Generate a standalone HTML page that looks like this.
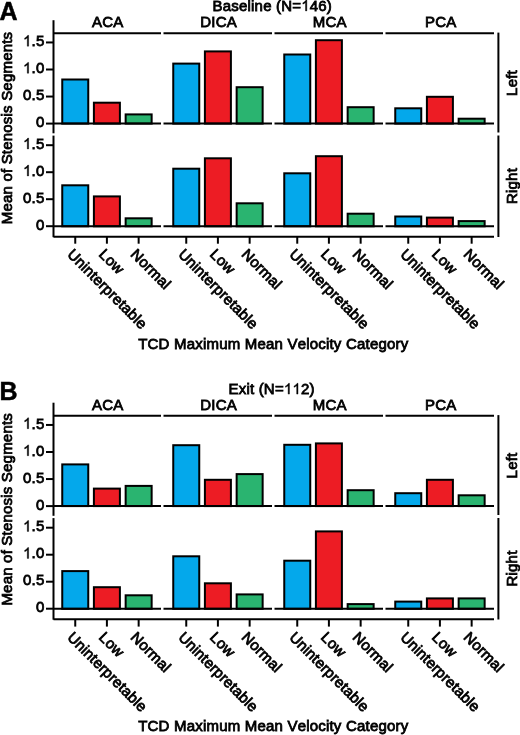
<!DOCTYPE html>
<html><head><meta charset="utf-8"><style>
html,body{margin:0;padding:0;background:#fff;}
svg{display:block;will-change:transform;}
text{font-family:"Liberation Sans",sans-serif;fill:#000;stroke:#000;stroke-width:0.8px;letter-spacing:0.2px;font-kerning:none;}
.one{fill:none;stroke:none;}
.b{stroke-width:0.5px;}
.p1{fill:#000;stroke:#000;stroke-width:55px;}
</style></head><body>
<svg width="520" height="735" viewBox="0 0 520 735">
<rect width="520" height="735" fill="#fff"/>
<text class="b" font-size="25" font-weight="bold" text-anchor="start" transform="translate(-0.5,19.9) scale(1,1)">A</text>
<text font-size="15" font-weight="normal" text-anchor="middle" transform="translate(272.3,10.9) scale(1,1.0)">Baseline (N=<tspan class="one">1</tspan>46)</text>
<path transform="translate(272.3,10.9) scale(1,1.0) translate(28.938,0) scale(0.007324,-0.007324)" d="M763 0H583V1147Q518 1085 412.5 1023T223 930V1104Q373 1175 485.5 1276T645 1472H763Z" class="p1"/>
<line x1="53.5" y1="33.2" x2="161.0" y2="33.2" stroke="#000" stroke-width="2"/>
<text font-size="15" font-weight="normal" text-anchor="middle" transform="translate(107.65,27.2) scale(1,1.0)">ACA</text>
<line x1="163.5" y1="33.2" x2="272.0" y2="33.2" stroke="#000" stroke-width="2"/>
<text font-size="15" font-weight="normal" text-anchor="middle" transform="translate(218.65,27.2) scale(1,1.0)">DICA</text>
<line x1="274.5" y1="33.2" x2="383.0" y2="33.2" stroke="#000" stroke-width="2"/>
<text font-size="15" font-weight="normal" text-anchor="middle" transform="translate(329.65,27.2) scale(1,1.0)">MCA</text>
<line x1="385.5" y1="33.2" x2="494.0" y2="33.2" stroke="#000" stroke-width="2"/>
<text font-size="15" font-weight="normal" text-anchor="middle" transform="translate(440.65,27.2) scale(1,1.0)">PCA</text>
<line x1="53.5" y1="20.2" x2="53.5" y2="133.3" stroke="#000" stroke-width="2"/>
<line x1="53.5" y1="135.6" x2="53.5" y2="237.2" stroke="#000" stroke-width="2"/>
<line x1="498.4" y1="32.6" x2="498.4" y2="132.5" stroke="#000" stroke-width="2"/>
<line x1="498.4" y1="135.5" x2="498.4" y2="237" stroke="#000" stroke-width="2"/>
<text font-size="15" font-weight="normal" text-anchor="middle" transform="translate(516.5,83) rotate(-90) translate(0,0) scale(1,1.0)">Left</text>
<text font-size="15" font-weight="normal" text-anchor="middle" transform="translate(516.5,186) rotate(-90) translate(0,0) scale(1,1.0)">Right</text>
<line x1="46" y1="123.6" x2="53.5" y2="123.6" stroke="#000" stroke-width="2"/>
<text font-size="15" font-weight="normal" text-anchor="end" transform="translate(44.5,127.3) scale(1,1.0)">0</text>
<line x1="46" y1="96.55" x2="53.5" y2="96.55" stroke="#000" stroke-width="2"/>
<text font-size="15" font-weight="normal" text-anchor="end" transform="translate(44.5,100.25) scale(1,1.0)">0.5</text>
<line x1="46" y1="69.5" x2="53.5" y2="69.5" stroke="#000" stroke-width="2"/>
<text font-size="15" font-weight="normal" text-anchor="end" transform="translate(44.5,73.2) scale(1,1.0)"><tspan class="one">1</tspan>.0</text>
<path transform="translate(44.5,73.2) scale(1,1.0) translate(-21.469,0) scale(0.007324,-0.007324)" d="M763 0H583V1147Q518 1085 412.5 1023T223 930V1104Q373 1175 485.5 1276T645 1472H763Z" class="p1"/>
<line x1="46" y1="42.44999999999999" x2="53.5" y2="42.44999999999999" stroke="#000" stroke-width="2"/>
<text font-size="15" font-weight="normal" text-anchor="end" transform="translate(44.5,46.14999999999999) scale(1,1.0)"><tspan class="one">1</tspan>.5</text>
<path transform="translate(44.5,46.14999999999999) scale(1,1.0) translate(-21.469,0) scale(0.007324,-0.007324)" d="M763 0H583V1147Q518 1085 412.5 1023T223 930V1104Q373 1175 485.5 1276T645 1472H763Z" class="p1"/>
<line x1="46" y1="226.2" x2="53.5" y2="226.2" stroke="#000" stroke-width="2"/>
<text font-size="15" font-weight="normal" text-anchor="end" transform="translate(44.5,229.89999999999998) scale(1,1.0)">0</text>
<line x1="46" y1="199.2" x2="53.5" y2="199.2" stroke="#000" stroke-width="2"/>
<text font-size="15" font-weight="normal" text-anchor="end" transform="translate(44.5,202.89999999999998) scale(1,1.0)">0.5</text>
<line x1="46" y1="172.2" x2="53.5" y2="172.2" stroke="#000" stroke-width="2"/>
<text font-size="15" font-weight="normal" text-anchor="end" transform="translate(44.5,175.89999999999998) scale(1,1.0)"><tspan class="one">1</tspan>.0</text>
<path transform="translate(44.5,175.89999999999998) scale(1,1.0) translate(-21.469,0) scale(0.007324,-0.007324)" d="M763 0H583V1147Q518 1085 412.5 1023T223 930V1104Q373 1175 485.5 1276T645 1472H763Z" class="p1"/>
<line x1="46" y1="145.2" x2="53.5" y2="145.2" stroke="#000" stroke-width="2"/>
<text font-size="15" font-weight="normal" text-anchor="end" transform="translate(44.5,148.89999999999998) scale(1,1.0)"><tspan class="one">1</tspan>.5</text>
<path transform="translate(44.5,148.89999999999998) scale(1,1.0) translate(-21.469,0) scale(0.007324,-0.007324)" d="M763 0H583V1147Q518 1085 412.5 1023T223 930V1104Q373 1175 485.5 1276T645 1472H763Z" class="p1"/>
<rect x="62.25" y="79.50" width="26.00" height="44.10" fill="#04A8EB" stroke="#000" stroke-width="2"/>
<rect x="93.90" y="102.70" width="26.00" height="20.90" fill="#ED1C24" stroke="#000" stroke-width="2"/>
<rect x="125.65" y="114.40" width="26.00" height="9.20" fill="#2AB470" stroke="#000" stroke-width="2"/>
<line x1="53.5" y1="123.6" x2="161.0" y2="123.6" stroke="#000" stroke-width="2"/>
<rect x="173.25" y="63.60" width="26.00" height="60.00" fill="#04A8EB" stroke="#000" stroke-width="2"/>
<rect x="204.90" y="51.40" width="26.00" height="72.20" fill="#ED1C24" stroke="#000" stroke-width="2"/>
<rect x="236.65" y="87.20" width="26.00" height="36.40" fill="#2AB470" stroke="#000" stroke-width="2"/>
<line x1="163.5" y1="123.6" x2="272.0" y2="123.6" stroke="#000" stroke-width="2"/>
<rect x="284.25" y="54.50" width="26.00" height="69.10" fill="#04A8EB" stroke="#000" stroke-width="2"/>
<rect x="315.90" y="40.20" width="26.00" height="83.40" fill="#ED1C24" stroke="#000" stroke-width="2"/>
<rect x="347.65" y="107.20" width="26.00" height="16.40" fill="#2AB470" stroke="#000" stroke-width="2"/>
<line x1="274.5" y1="123.6" x2="383.0" y2="123.6" stroke="#000" stroke-width="2"/>
<rect x="395.25" y="108.30" width="26.00" height="15.30" fill="#04A8EB" stroke="#000" stroke-width="2"/>
<rect x="426.90" y="96.80" width="26.00" height="26.80" fill="#ED1C24" stroke="#000" stroke-width="2"/>
<rect x="458.65" y="118.70" width="26.00" height="4.90" fill="#2AB470" stroke="#000" stroke-width="2"/>
<line x1="385.5" y1="123.6" x2="494.0" y2="123.6" stroke="#000" stroke-width="2"/>
<rect x="62.25" y="185.30" width="26.00" height="41.00" fill="#04A8EB" stroke="#000" stroke-width="2"/>
<rect x="93.90" y="196.40" width="26.00" height="29.90" fill="#ED1C24" stroke="#000" stroke-width="2"/>
<rect x="125.65" y="218.30" width="26.00" height="8.00" fill="#2AB470" stroke="#000" stroke-width="2"/>
<line x1="53.5" y1="226.3" x2="161.0" y2="226.3" stroke="#000" stroke-width="2"/>
<rect x="173.25" y="168.70" width="26.00" height="57.60" fill="#04A8EB" stroke="#000" stroke-width="2"/>
<rect x="204.90" y="158.30" width="26.00" height="68.00" fill="#ED1C24" stroke="#000" stroke-width="2"/>
<rect x="236.65" y="203.30" width="26.00" height="23.00" fill="#2AB470" stroke="#000" stroke-width="2"/>
<line x1="163.5" y1="226.3" x2="272.0" y2="226.3" stroke="#000" stroke-width="2"/>
<rect x="284.25" y="173.30" width="26.00" height="53.00" fill="#04A8EB" stroke="#000" stroke-width="2"/>
<rect x="315.90" y="156.20" width="26.00" height="70.10" fill="#ED1C24" stroke="#000" stroke-width="2"/>
<rect x="347.65" y="213.70" width="26.00" height="12.60" fill="#2AB470" stroke="#000" stroke-width="2"/>
<line x1="274.5" y1="226.3" x2="383.0" y2="226.3" stroke="#000" stroke-width="2"/>
<rect x="395.25" y="216.50" width="26.00" height="9.80" fill="#04A8EB" stroke="#000" stroke-width="2"/>
<rect x="426.90" y="217.60" width="26.00" height="8.70" fill="#ED1C24" stroke="#000" stroke-width="2"/>
<rect x="458.65" y="221.10" width="26.00" height="5.20" fill="#2AB470" stroke="#000" stroke-width="2"/>
<line x1="385.5" y1="226.3" x2="494.0" y2="226.3" stroke="#000" stroke-width="2"/>
<line x1="53.5" y1="236.8" x2="494" y2="236.8" stroke="#000" stroke-width="2"/>
<line x1="75.25" y1="237" x2="75.25" y2="243.7" stroke="#000" stroke-width="2"/>
<text font-size="15" font-weight="normal" text-anchor="start" transform="translate(66.44,255.28) rotate(45) translate(0,0) scale(1,1.0)">Uninterpretable</text>
<line x1="106.9" y1="237" x2="106.9" y2="243.7" stroke="#000" stroke-width="2"/>
<text font-size="15" font-weight="normal" text-anchor="start" transform="translate(98.09,255.28) rotate(45) translate(0,0) scale(1,1.0)">Low</text>
<line x1="138.65" y1="237" x2="138.65" y2="243.7" stroke="#000" stroke-width="2"/>
<text font-size="15" font-weight="normal" text-anchor="start" transform="translate(129.84,255.28) rotate(45) translate(0,0) scale(1,1.0)">Normal</text>
<line x1="186.25" y1="237" x2="186.25" y2="243.7" stroke="#000" stroke-width="2"/>
<text font-size="15" font-weight="normal" text-anchor="start" transform="translate(177.44,255.28) rotate(45) translate(0,0) scale(1,1.0)">Uninterpretable</text>
<line x1="217.9" y1="237" x2="217.9" y2="243.7" stroke="#000" stroke-width="2"/>
<text font-size="15" font-weight="normal" text-anchor="start" transform="translate(209.09,255.28) rotate(45) translate(0,0) scale(1,1.0)">Low</text>
<line x1="249.65" y1="237" x2="249.65" y2="243.7" stroke="#000" stroke-width="2"/>
<text font-size="15" font-weight="normal" text-anchor="start" transform="translate(240.84,255.28) rotate(45) translate(0,0) scale(1,1.0)">Normal</text>
<line x1="297.25" y1="237" x2="297.25" y2="243.7" stroke="#000" stroke-width="2"/>
<text font-size="15" font-weight="normal" text-anchor="start" transform="translate(288.44,255.28) rotate(45) translate(0,0) scale(1,1.0)">Uninterpretable</text>
<line x1="328.9" y1="237" x2="328.9" y2="243.7" stroke="#000" stroke-width="2"/>
<text font-size="15" font-weight="normal" text-anchor="start" transform="translate(320.09,255.28) rotate(45) translate(0,0) scale(1,1.0)">Low</text>
<line x1="360.65" y1="237" x2="360.65" y2="243.7" stroke="#000" stroke-width="2"/>
<text font-size="15" font-weight="normal" text-anchor="start" transform="translate(351.84,255.28) rotate(45) translate(0,0) scale(1,1.0)">Normal</text>
<line x1="408.25" y1="237" x2="408.25" y2="243.7" stroke="#000" stroke-width="2"/>
<text font-size="15" font-weight="normal" text-anchor="start" transform="translate(399.44,255.28) rotate(45) translate(0,0) scale(1,1.0)">Uninterpretable</text>
<line x1="439.9" y1="237" x2="439.9" y2="243.7" stroke="#000" stroke-width="2"/>
<text font-size="15" font-weight="normal" text-anchor="start" transform="translate(431.09,255.28) rotate(45) translate(0,0) scale(1,1.0)">Low</text>
<line x1="471.65" y1="237" x2="471.65" y2="243.7" stroke="#000" stroke-width="2"/>
<text font-size="15" font-weight="normal" text-anchor="start" transform="translate(462.84,255.28) rotate(45) translate(0,0) scale(1,1.0)">Normal</text>
<text font-size="15" font-weight="normal" text-anchor="middle" transform="translate(273.3,348.6) scale(1,1.0)">TCD Maximum Mean Velocity Category</text>
<text font-size="15" font-weight="normal" text-anchor="middle" transform="translate(11.7,128) rotate(-90) translate(0,0) scale(1,1.0)">Mean of Stenosis Segments</text>
<text class="b" font-size="25" font-weight="bold" text-anchor="start" transform="translate(-0.5,400.3) scale(1,1)">B</text>
<text font-size="15" font-weight="normal" text-anchor="middle" transform="translate(271.6,394.1) scale(1,1.0)">Exit (N=<tspan class="one">1</tspan><tspan class="one">1</tspan>2)</text>
<path transform="translate(271.6,394.1) scale(1,1.0) translate(12.266,0) scale(0.007324,-0.007324)" d="M763 0H583V1147Q518 1085 412.5 1023T223 930V1104Q373 1175 485.5 1276T645 1472H763Z" class="p1"/>
<path transform="translate(271.6,394.1) scale(1,1.0) translate(20.812,0) scale(0.007324,-0.007324)" d="M763 0H583V1147Q518 1085 412.5 1023T223 930V1104Q373 1175 485.5 1276T645 1472H763Z" class="p1"/>
<line x1="53.5" y1="415.7" x2="161.0" y2="415.7" stroke="#000" stroke-width="2"/>
<text font-size="15" font-weight="normal" text-anchor="middle" transform="translate(107.65,409.7) scale(1,1.0)">ACA</text>
<line x1="163.5" y1="415.7" x2="272.0" y2="415.7" stroke="#000" stroke-width="2"/>
<text font-size="15" font-weight="normal" text-anchor="middle" transform="translate(218.65,409.7) scale(1,1.0)">DICA</text>
<line x1="274.5" y1="415.7" x2="383.0" y2="415.7" stroke="#000" stroke-width="2"/>
<text font-size="15" font-weight="normal" text-anchor="middle" transform="translate(329.65,409.7) scale(1,1.0)">MCA</text>
<line x1="385.5" y1="415.7" x2="494.0" y2="415.7" stroke="#000" stroke-width="2"/>
<text font-size="15" font-weight="normal" text-anchor="middle" transform="translate(440.65,409.7) scale(1,1.0)">PCA</text>
<line x1="53.5" y1="402.7" x2="53.5" y2="515.8" stroke="#000" stroke-width="2"/>
<line x1="53.5" y1="518.1" x2="53.5" y2="619.7" stroke="#000" stroke-width="2"/>
<line x1="498.4" y1="415.1" x2="498.4" y2="515.0" stroke="#000" stroke-width="2"/>
<line x1="498.4" y1="518.0" x2="498.4" y2="619.5" stroke="#000" stroke-width="2"/>
<text font-size="15" font-weight="normal" text-anchor="middle" transform="translate(516.5,465.5) rotate(-90) translate(0,0) scale(1,1.0)">Left</text>
<text font-size="15" font-weight="normal" text-anchor="middle" transform="translate(516.5,568.5) rotate(-90) translate(0,0) scale(1,1.0)">Right</text>
<line x1="46" y1="506.1" x2="53.5" y2="506.1" stroke="#000" stroke-width="2"/>
<text font-size="15" font-weight="normal" text-anchor="end" transform="translate(44.5,509.8) scale(1,1.0)">0</text>
<line x1="46" y1="479.05" x2="53.5" y2="479.05" stroke="#000" stroke-width="2"/>
<text font-size="15" font-weight="normal" text-anchor="end" transform="translate(44.5,482.75) scale(1,1.0)">0.5</text>
<line x1="46" y1="452.0" x2="53.5" y2="452.0" stroke="#000" stroke-width="2"/>
<text font-size="15" font-weight="normal" text-anchor="end" transform="translate(44.5,455.7) scale(1,1.0)"><tspan class="one">1</tspan>.0</text>
<path transform="translate(44.5,455.7) scale(1,1.0) translate(-21.469,0) scale(0.007324,-0.007324)" d="M763 0H583V1147Q518 1085 412.5 1023T223 930V1104Q373 1175 485.5 1276T645 1472H763Z" class="p1"/>
<line x1="46" y1="424.95000000000005" x2="53.5" y2="424.95000000000005" stroke="#000" stroke-width="2"/>
<text font-size="15" font-weight="normal" text-anchor="end" transform="translate(44.5,428.65000000000003) scale(1,1.0)"><tspan class="one">1</tspan>.5</text>
<path transform="translate(44.5,428.65000000000003) scale(1,1.0) translate(-21.469,0) scale(0.007324,-0.007324)" d="M763 0H583V1147Q518 1085 412.5 1023T223 930V1104Q373 1175 485.5 1276T645 1472H763Z" class="p1"/>
<line x1="46" y1="608.7" x2="53.5" y2="608.7" stroke="#000" stroke-width="2"/>
<text font-size="15" font-weight="normal" text-anchor="end" transform="translate(44.5,612.4000000000001) scale(1,1.0)">0</text>
<line x1="46" y1="581.7" x2="53.5" y2="581.7" stroke="#000" stroke-width="2"/>
<text font-size="15" font-weight="normal" text-anchor="end" transform="translate(44.5,585.4000000000001) scale(1,1.0)">0.5</text>
<line x1="46" y1="554.7" x2="53.5" y2="554.7" stroke="#000" stroke-width="2"/>
<text font-size="15" font-weight="normal" text-anchor="end" transform="translate(44.5,558.4000000000001) scale(1,1.0)"><tspan class="one">1</tspan>.0</text>
<path transform="translate(44.5,558.4000000000001) scale(1,1.0) translate(-21.469,0) scale(0.007324,-0.007324)" d="M763 0H583V1147Q518 1085 412.5 1023T223 930V1104Q373 1175 485.5 1276T645 1472H763Z" class="p1"/>
<line x1="46" y1="527.7" x2="53.5" y2="527.7" stroke="#000" stroke-width="2"/>
<text font-size="15" font-weight="normal" text-anchor="end" transform="translate(44.5,531.4000000000001) scale(1,1.0)"><tspan class="one">1</tspan>.5</text>
<path transform="translate(44.5,531.4000000000001) scale(1,1.0) translate(-21.469,0) scale(0.007324,-0.007324)" d="M763 0H583V1147Q518 1085 412.5 1023T223 930V1104Q373 1175 485.5 1276T645 1472H763Z" class="p1"/>
<rect x="62.25" y="464.40" width="26.00" height="41.70" fill="#04A8EB" stroke="#000" stroke-width="2"/>
<rect x="93.90" y="488.60" width="26.00" height="17.50" fill="#ED1C24" stroke="#000" stroke-width="2"/>
<rect x="125.65" y="485.90" width="26.00" height="20.20" fill="#2AB470" stroke="#000" stroke-width="2"/>
<line x1="53.5" y1="506.1" x2="161.0" y2="506.1" stroke="#000" stroke-width="2"/>
<rect x="173.25" y="445.20" width="26.00" height="60.90" fill="#04A8EB" stroke="#000" stroke-width="2"/>
<rect x="204.90" y="479.80" width="26.00" height="26.30" fill="#ED1C24" stroke="#000" stroke-width="2"/>
<rect x="236.65" y="474.10" width="26.00" height="32.00" fill="#2AB470" stroke="#000" stroke-width="2"/>
<line x1="163.5" y1="506.1" x2="272.0" y2="506.1" stroke="#000" stroke-width="2"/>
<rect x="284.25" y="444.80" width="26.00" height="61.30" fill="#04A8EB" stroke="#000" stroke-width="2"/>
<rect x="315.90" y="443.40" width="26.00" height="62.70" fill="#ED1C24" stroke="#000" stroke-width="2"/>
<rect x="347.65" y="490.20" width="26.00" height="15.90" fill="#2AB470" stroke="#000" stroke-width="2"/>
<line x1="274.5" y1="506.1" x2="383.0" y2="506.1" stroke="#000" stroke-width="2"/>
<rect x="395.25" y="493.20" width="26.00" height="12.90" fill="#04A8EB" stroke="#000" stroke-width="2"/>
<rect x="426.90" y="479.80" width="26.00" height="26.30" fill="#ED1C24" stroke="#000" stroke-width="2"/>
<rect x="458.65" y="495.30" width="26.00" height="10.80" fill="#2AB470" stroke="#000" stroke-width="2"/>
<line x1="385.5" y1="506.1" x2="494.0" y2="506.1" stroke="#000" stroke-width="2"/>
<rect x="62.25" y="571.10" width="26.00" height="37.70" fill="#04A8EB" stroke="#000" stroke-width="2"/>
<rect x="93.90" y="587.20" width="26.00" height="21.60" fill="#ED1C24" stroke="#000" stroke-width="2"/>
<rect x="125.65" y="595.30" width="26.00" height="13.50" fill="#2AB470" stroke="#000" stroke-width="2"/>
<line x1="53.5" y1="608.8" x2="161.0" y2="608.8" stroke="#000" stroke-width="2"/>
<rect x="173.25" y="556.30" width="26.00" height="52.50" fill="#04A8EB" stroke="#000" stroke-width="2"/>
<rect x="204.90" y="583.30" width="26.00" height="25.50" fill="#ED1C24" stroke="#000" stroke-width="2"/>
<rect x="236.65" y="594.40" width="26.00" height="14.40" fill="#2AB470" stroke="#000" stroke-width="2"/>
<line x1="163.5" y1="608.8" x2="272.0" y2="608.8" stroke="#000" stroke-width="2"/>
<rect x="284.25" y="560.70" width="26.00" height="48.10" fill="#04A8EB" stroke="#000" stroke-width="2"/>
<rect x="315.90" y="531.40" width="26.00" height="77.40" fill="#ED1C24" stroke="#000" stroke-width="2"/>
<rect x="347.65" y="604.10" width="26.00" height="4.70" fill="#2AB470" stroke="#000" stroke-width="2"/>
<line x1="274.5" y1="608.8" x2="383.0" y2="608.8" stroke="#000" stroke-width="2"/>
<rect x="395.25" y="601.60" width="26.00" height="7.20" fill="#04A8EB" stroke="#000" stroke-width="2"/>
<rect x="426.90" y="598.40" width="26.00" height="10.40" fill="#ED1C24" stroke="#000" stroke-width="2"/>
<rect x="458.65" y="598.40" width="26.00" height="10.40" fill="#2AB470" stroke="#000" stroke-width="2"/>
<line x1="385.5" y1="608.8" x2="494.0" y2="608.8" stroke="#000" stroke-width="2"/>
<line x1="53.5" y1="619.3" x2="494" y2="619.3" stroke="#000" stroke-width="2"/>
<line x1="75.25" y1="619.5" x2="75.25" y2="626.6" stroke="#000" stroke-width="2"/>
<text font-size="15" font-weight="normal" text-anchor="start" transform="translate(66.44,638.18) rotate(45) translate(0,0) scale(1,1.0)">Uninterpretable</text>
<line x1="106.9" y1="619.5" x2="106.9" y2="626.6" stroke="#000" stroke-width="2"/>
<text font-size="15" font-weight="normal" text-anchor="start" transform="translate(98.09,638.18) rotate(45) translate(0,0) scale(1,1.0)">Low</text>
<line x1="138.65" y1="619.5" x2="138.65" y2="626.6" stroke="#000" stroke-width="2"/>
<text font-size="15" font-weight="normal" text-anchor="start" transform="translate(129.84,638.18) rotate(45) translate(0,0) scale(1,1.0)">Normal</text>
<line x1="186.25" y1="619.5" x2="186.25" y2="626.6" stroke="#000" stroke-width="2"/>
<text font-size="15" font-weight="normal" text-anchor="start" transform="translate(177.44,638.18) rotate(45) translate(0,0) scale(1,1.0)">Uninterpretable</text>
<line x1="217.9" y1="619.5" x2="217.9" y2="626.6" stroke="#000" stroke-width="2"/>
<text font-size="15" font-weight="normal" text-anchor="start" transform="translate(209.09,638.18) rotate(45) translate(0,0) scale(1,1.0)">Low</text>
<line x1="249.65" y1="619.5" x2="249.65" y2="626.6" stroke="#000" stroke-width="2"/>
<text font-size="15" font-weight="normal" text-anchor="start" transform="translate(240.84,638.18) rotate(45) translate(0,0) scale(1,1.0)">Normal</text>
<line x1="297.25" y1="619.5" x2="297.25" y2="626.6" stroke="#000" stroke-width="2"/>
<text font-size="15" font-weight="normal" text-anchor="start" transform="translate(288.44,638.18) rotate(45) translate(0,0) scale(1,1.0)">Uninterpretable</text>
<line x1="328.9" y1="619.5" x2="328.9" y2="626.6" stroke="#000" stroke-width="2"/>
<text font-size="15" font-weight="normal" text-anchor="start" transform="translate(320.09,638.18) rotate(45) translate(0,0) scale(1,1.0)">Low</text>
<line x1="360.65" y1="619.5" x2="360.65" y2="626.6" stroke="#000" stroke-width="2"/>
<text font-size="15" font-weight="normal" text-anchor="start" transform="translate(351.84,638.18) rotate(45) translate(0,0) scale(1,1.0)">Normal</text>
<line x1="408.25" y1="619.5" x2="408.25" y2="626.6" stroke="#000" stroke-width="2"/>
<text font-size="15" font-weight="normal" text-anchor="start" transform="translate(399.44,638.18) rotate(45) translate(0,0) scale(1,1.0)">Uninterpretable</text>
<line x1="439.9" y1="619.5" x2="439.9" y2="626.6" stroke="#000" stroke-width="2"/>
<text font-size="15" font-weight="normal" text-anchor="start" transform="translate(431.09,638.18) rotate(45) translate(0,0) scale(1,1.0)">Low</text>
<line x1="471.65" y1="619.5" x2="471.65" y2="626.6" stroke="#000" stroke-width="2"/>
<text font-size="15" font-weight="normal" text-anchor="start" transform="translate(462.84,638.18) rotate(45) translate(0,0) scale(1,1.0)">Normal</text>
<text font-size="15" font-weight="normal" text-anchor="middle" transform="translate(273.3,731.1) scale(1,1.0)">TCD Maximum Mean Velocity Category</text>
<text font-size="15" font-weight="normal" text-anchor="middle" transform="translate(11.7,509.3) rotate(-90) translate(0,0) scale(1,1.0)">Mean of Stenosis Segments</text>
</svg>
</body></html>
